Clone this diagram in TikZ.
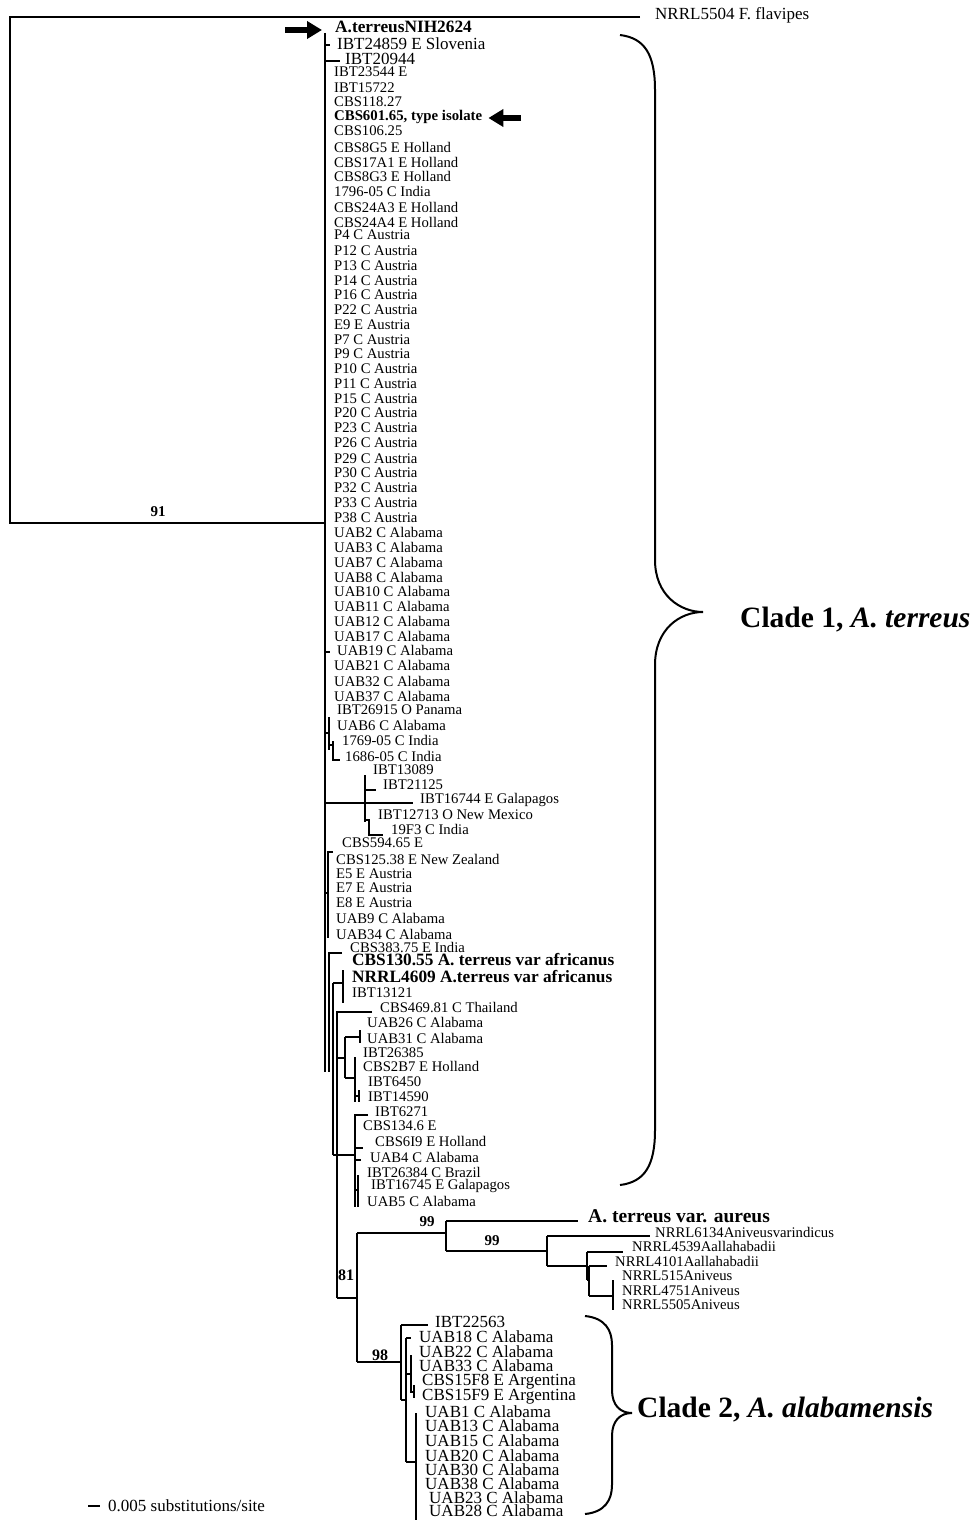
\documentclass[tikz,border=0pt]{standalone}
\usepackage{fontspec}
\setmainfont{Liberation Serif}
\usetikzlibrary{arrows.meta}

\tikzset{
  lbl/.style={anchor=west, inner sep=0pt, font=\fontsize{14.7}{14.7}\selectfont},
  lblbig/.style={lbl, font=\fontsize{17}{17}\selectfont},
  lblbold/.style={lbl, font=\fontsize{17.3}{17.3}\selectfont\bfseries},
  boot/.style={inner sep=0pt, font=\fontsize{15}{15}\selectfont\bfseries},
  clade/.style={anchor=west, inner sep=0pt, font=\fontsize{29.5}{29.5}\selectfont\bfseries},
  br/.style={line width=1.6},
  bracket/.style={line width=2},
  marker/.style={line width=5.5, -{Triangle[length=15pt,width=17pt]}}
}

\begin{document}
\begin{tikzpicture}[x=1pt, y=-1pt]
  \useasboundingbox (0,0) rectangle (973,1520);

  % outgroup and root
  \node[lblbig] (flav) at (655,15) {NRRL5504 F. flavipes};
  \coordinate (tflav) at (640,17);
  \coordinate (root) at (10,523);
  \coordinate (n91) at (325,523);
  \draw[br] (tflav) -| (root) -- (n91);
  \node[boot] (b91) at (158,512) {91};

  % clade 1, the big comb
  \node[lblbold] (nih) at (335,27) {A.terreusNIH2624};
  \node[lblbig] (t45) at (337,44) {IBT24859 E Slovenia};
  \node[lblbig] (t58) at (345,59) {IBT20944};
  \node[lbl, font=\fontsize{14.8}{14.8}\selectfont\bfseries] (type) at (334,117) {CBS601.65, type isolate};
  \foreach \y/\t in {72/IBT23544 E, 88/IBT15722, 102/CBS118.27, 131/CBS106.25,
      147/CBS8G5 E Holland, 162/CBS17A1 E Holland, 176/CBS8G3 E Holland,
      191/1796-05 C India, 207/CBS24A3 E Holland, 222/CBS24A4 E Holland,
      235/P4 C Austria, 251/P12 C Austria, 266/P13 C Austria, 281/P14 C Austria,
      295/P16 C Austria, 310/P22 C Austria, 325/E9 E Austria, 340/P7 C Austria,
      354/P9 C Austria, 369/P10 C Austria, 384/P11 C Austria, 399/P15 C Austria,
      413/P20 C Austria, 428/P23 C Austria, 443/P26 C Austria, 459/P29 C Austria,
      473/P30 C Austria, 488/P32 C Austria, 503/P33 C Austria, 518/P38 C Austria,
      532/UAB2 C Alabama, 547/UAB3 C Alabama, 562/UAB7 C Alabama, 577/UAB8 C Alabama,
      591/UAB10 C Alabama, 606/UAB11 C Alabama, 621/UAB12 C Alabama,
      636/UAB17 C Alabama, 665/UAB21 C Alabama, 681/UAB32 C Alabama,
      696/UAB37 C Alabama}
    \node[lbl] (t\y) at (334,\y) {\t};
  \foreach \x/\y/\t in {337/650/UAB19 C Alabama, 337/710/IBT26915 O Panama,
      337/725/UAB6 C Alabama, 342/740/1769-05 C India, 345/756/1686-05 C India,
      373/770/IBT13089, 383/785/IBT21125, 420/800/IBT16744 E Galapagos,
      378/815/IBT12713 O New Mexico, 391/829/19F3 C India, 342/843/CBS594.65 E,
      336/859/CBS125.38 E New Zealand, 336/874/E5 E Austria, 336/888/E7 E Austria,
      336/903/E8 E Austria, 336/918/UAB9 C Alabama, 336/934/UAB34 C Alabama,
      350/947/CBS383.75 E India, 352/993/IBT13121, 380/1007/CBS469.81 C Thailand,
      367/1022/UAB26 C Alabama, 367/1038/UAB31 C Alabama, 363/1053/IBT26385,
      363/1066/CBS2B7 E Holland, 368/1082/IBT6450, 368/1097/IBT14590,
      375/1112/IBT6271, 363/1126/CBS134.6 E, 375/1141/CBS6I9 E Holland,
      370/1157/UAB4 C Alabama, 367/1172/IBT26384 C Brazil,
      371/1186/IBT16745 E Galapagos, 367/1201/UAB5 C Alabama}
    \node[lbl] (t\y) at (\x,\y) {\t};
  \node[lblbold] (afr1) at (352,960) {CBS130.55 A. terreus var africanus};
  \node[lblbold] (afr2) at (352,977) {NRRL4609 A.terreus var africanus};

  % branches of clade 1
  \draw[br] (325,33) -- (325,1072);
  \draw[br] (325,45) -- (330,45);
  \draw[br] (325,61) -- (340,61);
  \draw[br] (325,652) -- (330,652);
  \draw[br] (325,733) -- (329,733) (329,717) -- (329,750);
  \draw[br] (329,745) -- (333,745) (333,741) -- (333,760) -- (340,760);
  \draw[br] (325,803) -- (413,803) (365,775) -- (365,822);
  \draw[br] (365,790) -- (376,790);
  \draw[br] (365,820) -- (369,820) -- (369,835) -- (383,835);
  \draw[br] (325,893) -- (328,893) (333,852) -- (328,852) -- (328,938);
  \draw[br] (342,953) -- (329,953) -- (329,1072);
  \draw[br] (333,983) -- (343,983) (343,970) -- (343,1003);
  \draw[br] (333,983) -- (333,1155);
  \draw[br] (372,1012) -- (337,1012) -- (337,1298);
  \draw[br] (337,1058) -- (345,1058) (345,1037) -- (345,1078);
  \draw[br] (345,1037) -- (360,1037) (360,1030) -- (360,1043);
  \draw[br] (345,1078) -- (355,1078) (355,1057) -- (355,1102);
  \draw[br] (355,1096) -- (359,1096) (359,1090) -- (359,1102);
  \draw[br] (333,1155) -- (355,1155) (368,1115) -- (355,1115) -- (355,1207);
  \draw[br] (355,1148) -- (363,1148) (355,1160) -- (361,1160);
  \draw[br] (355,1190) -- (358,1190) (358,1175) -- (358,1207);

  % clade 81 / 99 / 99
  \coordinate (n81) at (357,1298);
  \coordinate (n99a) at (446,1233);
  \coordinate (n99b) at (547,1251);
  \coordinate (n98) at (401,1362);
  \node[boot, font=\fontsize{16}{16}\selectfont\bfseries] (b81) at (346,1275) {81};
  \node[boot] (b99a) at (427,1222) {99};
  \node[boot] (b99b) at (492,1241) {99};
  \node[lbl, font=\fontsize{19.5}{19.5}\selectfont\bfseries] (aur) at (588,1216) {A. terreus var. aureus};
  \foreach \x/\y/\t in {655/1232/NRRL6134Aniveusvarindicus,
      632/1246/NRRL4539Aallahabadii, 615/1261/NRRL4101Aallahabadii,
      622/1276/NRRL515Aniveus, 622/1291/NRRL4751Aniveus, 622/1305/NRRL5505Aniveus}
    \node[lbl] (t\y) at (\x,\y) {\t};
  \draw[br] (337,1298) -- (n81) (357,1233) -- (357,1362);
  \draw[br] (357,1233) -- (n99a) (446,1221) -- (446,1251) (446,1221) -- (578,1221);
  \draw[br] (n99a |- n99b) -- (n99b) (547,1236) -- (547,1266) (547,1236) -- (650,1236);
  \draw[br] (547,1266) -- (587,1266) (587,1252) -- (587,1280) (587,1252) -- (623,1252);
  \draw[br] (587,1280) -- (589,1280) (589,1266) -- (589,1296) (589,1266) -- (607,1266);
  \draw[br] (589,1296) -- (613,1296) (613,1280) -- (613,1310);

  % clade 2
  \node[boot, font=\fontsize{16}{16}\selectfont\bfseries] (b98) at (380,1355) {98};
  \foreach \x/\y/\t in {435/1322/IBT22563, 419/1337/UAB18 C Alabama,
      419/1352/UAB22 C Alabama, 419/1366/UAB33 C Alabama,
      422/1382/CBS15F8 E Argentina, 422/1397/CBS15F9 E Argentina,
      425/1412/UAB1 C Alabama, 425/1426/UAB13 C Alabama, 425/1441/UAB15 C Alabama,
      425/1456/UAB20 C Alabama, 425/1470/UAB30 C Alabama, 425/1484/UAB38 C Alabama,
      429/1498/UAB23 C Alabama, 429/1511/UAB28 C Alabama}
    \node[lblbig] (t\y) at (\x,\y) {\t};
  \draw[br] (357,1362) -- (n98) (401,1325) -- (401,1400) (401,1325) -- (428,1325);
  \draw[br] (401,1400) -- (406,1400) (406,1338) -- (406,1462) (406,1338) -- (411,1338);
  \draw[br] (406,1374) -- (411,1374) (411,1355) -- (411,1393);
  \draw[br] (411,1392) -- (414,1392) (414,1385) -- (414,1398);
  \draw[br] (406,1462) -- (416,1462) (416,1413) -- (416,1520);

  % braces and clade names
  \draw[bracket] (620,35) .. controls (645,38) and (655,55) .. (655,90)
    -- (655,560) .. controls (655,595) and (680,612) .. (703,612)
    .. controls (680,612) and (655,629) .. (655,665)
    -- (655,1130) .. controls (655,1165) and (645,1182) .. (620,1185);
  \node[clade] (c1) at (740,620) {Clade 1, \textit{A. terreus}};
  \draw[bracket] (585,1316) .. controls (605,1318) and (612,1330) .. (612,1345)
    -- (612,1390) .. controls (612,1405) and (620,1413) .. (632,1413)
    .. controls (620,1413) and (612,1421) .. (612,1436)
    -- (612,1485) .. controls (612,1500) and (605,1512) .. (585,1514);
  \node[clade] (c2) at (637,1410) {Clade 2, \textit{A. alabamensis}};

  % pointers
  \coordinate (a1) at (285,30);
  \coordinate (a2) at (521,118);
  \draw[marker, shorten >=13pt] (a1) -- (a1 -| nih.west);
  \draw[marker, shorten >=6pt] (a2) -- (a2 -| type.east);

  % scale
  \node[lblbig] (scale) at (108,1506) {0.005 substitutions/site};
  \draw[br] (88,1506) -- (100,1506);
\end{tikzpicture}
\end{document}
